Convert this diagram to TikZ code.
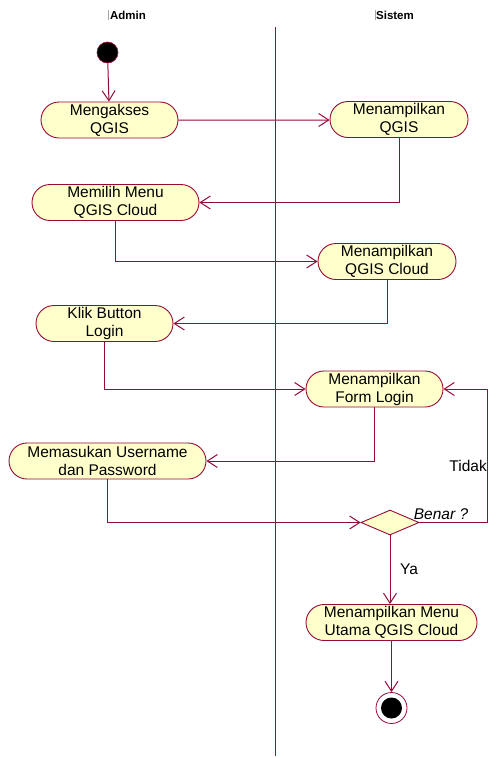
\documentclass[tikz,border=0pt]{standalone}
\usepackage{fontspec}
\setmainfont{Liberation Sans}
\usetikzlibrary{shapes.misc,shapes.geometric,arrows.meta}
\definecolor{umlline}{RGB}{150,10,55}
\definecolor{umlfill}{RGB}{255,255,204}
\begin{document}
\begin{tikzpicture}[x=1pt,y=-1pt,
  act/.style={rounded rectangle, draw=umlline, fill=umlfill, line width=0.9pt,
    inner sep=0pt, minimum height=36pt, align=center,
    font=\fontsize{15.5}{18}\selectfont},
  flow/.style={draw=umlline, line width=1pt, -{Straight Barb[length=10pt,width=13pt,line width=1pt]}},
  hdr/.style={font=\fontsize{11.5}{13}\selectfont\bfseries},
  lbl/.style={font=\fontsize{15.5}{18}\selectfont, inner sep=0pt},
  tick/.style={draw=gray!70, line width=1.3pt}
]
\useasboundingbox (0,0) rectangle (502,758);
% headers
\node[hdr] (hA) at (128,15) {Admin};
\node[hdr] (hS) at (395,15) {Sistem};
\draw[tick] (108.5,10) -- (108.5,20);
\draw[tick] (375.5,10) -- (375.5,20);
% swimlane divider
\coordinate (d1) at (275,27);
\coordinate (d2) at (275,756);
\draw[umlline, line width=0.9pt] (d1) -- (d2);
% start
\node[circle, fill=black, draw=umlline, line width=0.6pt, minimum size=21pt, inner sep=0pt] (start) at (107.5,52.5) {};
% activities
\node[act, minimum width=137pt] (a1) at (109.5,120) {Mengakses\\QGIS};
\node[act, minimum width=138pt] (s1) at (399,119.5) {Menampilkan\\QGIS};
\node[act, minimum width=167pt] (a2) at (115.5,202.5) {Memilih Menu\\QGIS Cloud};
\node[act, minimum width=138pt] (s2) at (387,261.5) {Menampilkan\\QGIS Cloud};
\node[act, minimum width=137pt] (a3) at (104.5,323.5) {Klik Button\\Login};
\node[act, minimum width=137pt] (s3) at (374.5,389) {Menampilkan\\Form Login};
\node[act, minimum width=197pt] (a4) at (107.5,461) {Memasukan Username\\dan Password};
\node[diamond, draw=umlline, fill=umlfill, line width=0.9pt, inner sep=0pt,
  minimum width=58pt, minimum height=25pt] (dec) at (390,522.5) {};
\node[act, minimum width=171pt] (s4) at (391.5,622.5) {Menampilkan Menu\\Utama QGIS Cloud};
% end
\node[circle, draw=umlline, fill=white, line width=0.8pt, minimum size=31pt, inner sep=0pt] (endo) at (391.5,708) {};
\node[circle, fill=black, minimum size=21pt, inner sep=0pt] (endi) at (391.5,708) {};
% flows
\draw[flow] (start) -- (a1);
\draw[flow] (a1) -- (s1.west |- a1.east);
\draw[flow] (s1.south) |- (a2.east);
\draw[flow] (a2.south) |- (s2.west);
\draw[flow] (s2.south) |- (a3.east);
\draw[flow] (a3.south) |- (s3.west);
\draw[flow] (s3.south) |- (a4.east);
\draw[flow] (a4.south) |- (dec.west);
\draw[flow] (dec.east) -- ++(68,0) |- (s3.east);
\draw[flow] (dec.south) -- (s4.north -| dec.south);
\draw[flow] (s4.south -| endo.north) -- (endo.north);
% labels
\node[lbl, anchor=east] (tidak) at (487,466) {Tidak};
\node[lbl, font=\fontsize{15.5}{18}\selectfont\itshape] (benar) at (441,514) {Benar ?};
\node[lbl] (ya) at (409,569) {Ya};
\end{tikzpicture}
\end{document}
